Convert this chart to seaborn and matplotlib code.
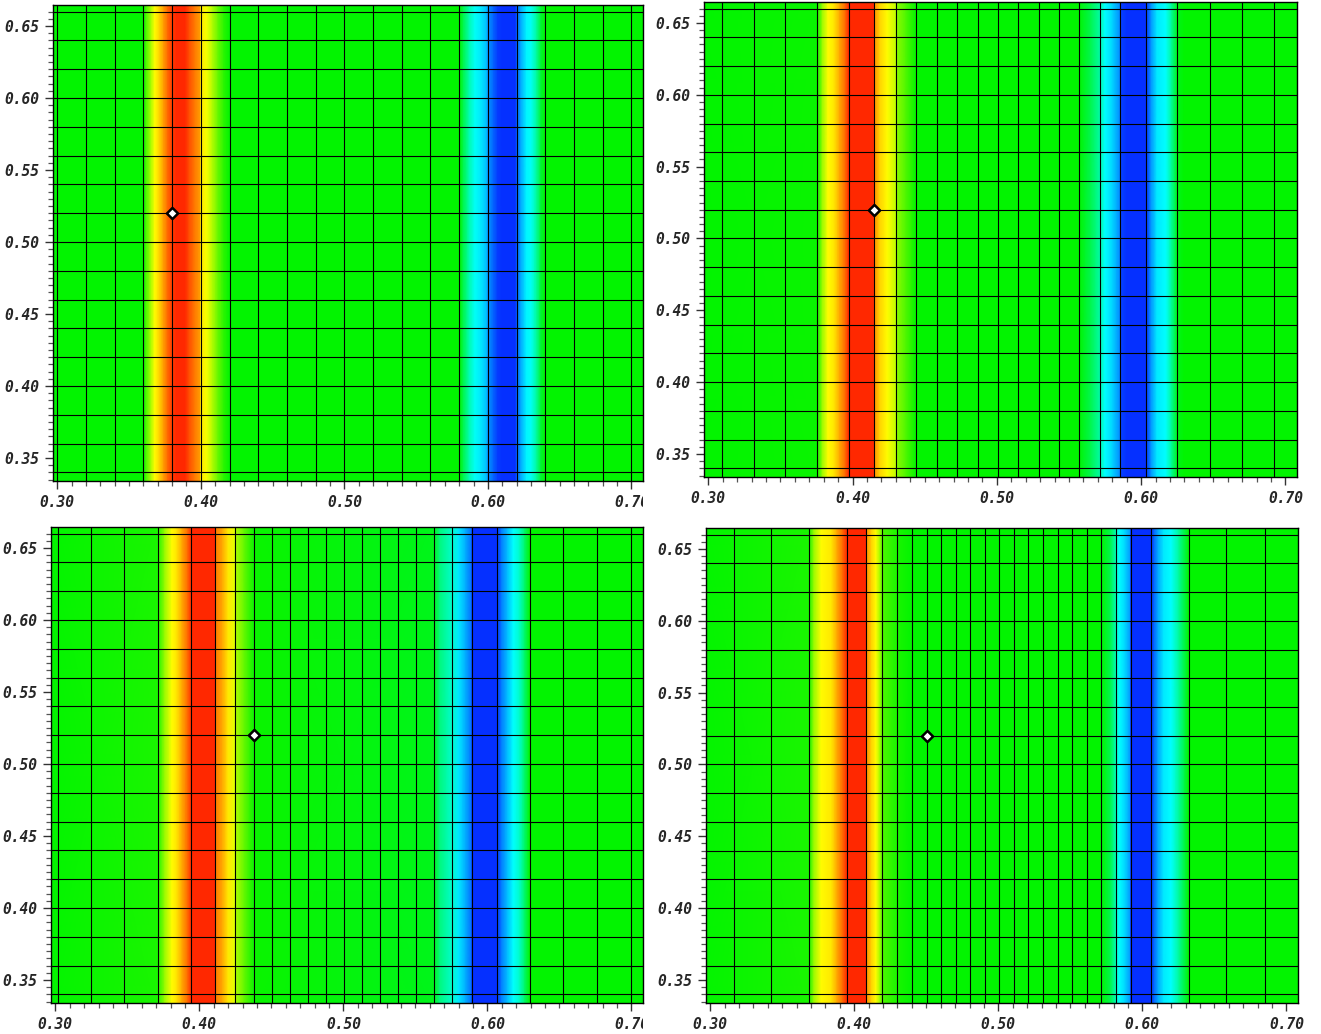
import numpy as np
import matplotlib
matplotlib.use("Agg")
import matplotlib.pyplot as plt
import seaborn as sns
from matplotlib.colors import LinearSegmentedColormap
from matplotlib.ticker import MultipleLocator, FormatStrFormatter
from matplotlib.transforms import Bbox

sns.set_style("ticks")
plt.rcParams['font.family'] = ['DejaVu Sans Mono', 'DejaVu Sans']

# ==========================================================
# data
# ==========================================================

# horizontal mesh lines (same in all panels)
Y_LINES = [0.34, 0.36, 0.38, 0.40, 0.42, 0.44, 0.46, 0.48, 0.50,
           0.52, 0.54, 0.56, 0.58, 0.60, 0.62, 0.64, 0.66]

# vertical mesh lines per panel
X_LINES_1 = [0.30, 0.32, 0.34, 0.36, 0.38, 0.40, 0.42, 0.44, 0.46, 0.48, 0.50,
             0.52, 0.54, 0.56, 0.58, 0.60, 0.62, 0.64, 0.66, 0.68, 0.70]
X_LINES_2 = [0.3094, 0.3314, 0.3534, 0.3756, 0.3973, 0.4150, 0.4302, 0.4442,
             0.4582, 0.4725, 0.4868, 0.5008, 0.5147, 0.5290, 0.5432, 0.5569,
             0.5712, 0.5855, 0.6037, 0.6250, 0.6477, 0.6698, 0.6920]
X_LINES_3 = [0.3017, 0.3246, 0.3476, 0.3711, 0.3945, 0.4112, 0.4248, 0.4378,
             0.4505, 0.4629, 0.4756, 0.4881, 0.5004, 0.5126, 0.5256, 0.5380,
             0.5503, 0.5628, 0.5756, 0.5892, 0.6066, 0.6295, 0.6524, 0.6760,
             0.6996]
X_LINES_4 = [0.3167, 0.3425, 0.3686, 0.3948, 0.4084, 0.4195, 0.4299, 0.4400,
             0.4503, 0.4603, 0.4704, 0.4803, 0.4905, 0.5005, 0.5108, 0.5208,
             0.5309, 0.5412, 0.5513, 0.5615, 0.5715, 0.5815, 0.5918, 0.6061,
             0.6322, 0.6584, 0.6852]

# solution profile u(x): positive -> red band, negative -> blue band
PROF_X_1 = [0.29, 0.360, 0.362, 0.3655, 0.368, 0.371, 0.374, 0.377, 0.380,
            0.383, 0.389, 0.392, 0.396, 0.3995, 0.400, 0.404, 0.408, 0.412,
            0.416, 0.420,
            0.580, 0.583, 0.587, 0.591, 0.595, 0.599, 0.600, 0.604, 0.607,
            0.610, 0.619, 0.620, 0.623, 0.627, 0.630, 0.634, 0.637, 0.640, 0.72]
PROF_V_1 = [0.0, 0.0, 0.15, 0.35, 0.50, 0.60, 0.72, 0.85, 0.95,
            1.0, 1.0, 0.90, 0.80, 0.72, 0.55, 0.48, 0.35, 0.20,
            0.08, 0.0,
            0.0, -0.15, -0.35, -0.48, -0.55, -0.65, -0.75, -0.88, -0.97,
            -1.0, -1.0, -0.90, -0.70, -0.52, -0.48, -0.30, -0.10, 0.0, 0.0]

PROF_X_2 = [0.29, 0.3756, 0.379, 0.383, 0.387, 0.391, 0.395, 0.3973, 0.4148,
            0.4152, 0.419, 0.424, 0.4300, 0.4304, 0.437, 0.4442,
            0.5569, 0.565, 0.5712, 0.575, 0.580, 0.5853, 0.5857, 0.590,
            0.6035, 0.607, 0.611, 0.617, 0.621, 0.6250, 0.630, 0.72]
PROF_V_2 = [0.0, 0.02, 0.30, 0.50, 0.55, 0.70, 0.85, 1.0, 1.0,
            0.75, 0.60, 0.50, 0.38, 0.28, 0.15, 0.0,
            0.0, -0.15, -0.32, -0.50, -0.60, -0.78, -0.95, -1.0,
            -1.0, -0.75, -0.55, -0.50, -0.30, -0.05, 0.0, 0.0]

PROF_X_3 = [0.29, 0.3711, 0.376, 0.381, 0.384, 0.388, 0.392, 0.3945, 0.4110,
            0.4114, 0.416, 0.420, 0.4246, 0.4250, 0.431, 0.438,
            0.5628, 0.567, 0.5756, 0.580, 0.585, 0.5890, 0.5894, 0.6066,
            0.610, 0.614, 0.618, 0.622, 0.626, 0.6295, 0.72]
PROF_V_3 = [0.0, 0.05, 0.30, 0.50, 0.55, 0.70, 0.85, 1.0, 1.0,
            0.80, 0.70, 0.55, 0.45, 0.35, 0.20, 0.02,
            -0.05, -0.25, -0.40, -0.55, -0.70, -0.85, -1.0, -1.0,
            -0.80, -0.65, -0.50, -0.40, -0.20, 0.0, 0.0]

PROF_X_4 = [0.29, 0.3686, 0.372, 0.377, 0.384, 0.388, 0.392, 0.3948, 0.4082,
            0.4086, 0.412, 0.415, 0.418, 0.4195, 0.430, 0.440,
            0.5715, 0.578, 0.5815, 0.584, 0.588, 0.5916, 0.5920, 0.6061,
            0.6085, 0.611, 0.6148, 0.620, 0.6254, 0.6322, 0.72]
PROF_V_4 = [0.0, 0.05, 0.30, 0.50, 0.55, 0.70, 0.85, 1.0, 1.0,
            0.75, 0.60, 0.50, 0.30, 0.15, 0.05, 0.0,
            0.0, -0.15, -0.35, -0.50, -0.60, -0.75, -1.0, -1.0,
            -0.85, -0.70, -0.55, -0.50, -0.30, 0.0, 0.0]

# tracked node (diamond)
MARK_X = [0.380, 0.415, 0.4378, 0.4503]
MARK_Y = [0.52, 0.52, 0.52, 0.52]

X_LINES = [X_LINES_1, X_LINES_2, X_LINES_3, X_LINES_4]
PROF_X = [PROF_X_1, PROF_X_2, PROF_X_3, PROF_X_4]
PROF_V = [PROF_V_1, PROF_V_2, PROF_V_3, PROF_V_4]

# ==========================================================
# figure
# ==========================================================

cmap = LinearSegmentedColormap.from_list(
    "bgr", [(0.0, "#0530FF"), (0.25, "#00FFFF"), (0.5, "#00F400"),
            (0.75, "#FFFF00"), (1.0, "#FF2800")])

XLIM = (0.297, 0.708)
YLIM = (0.334, 0.6646)

positions = [
    [0.0401, 0.5348, 0.4466, 0.4603],
    [0.5329, 0.5387, 0.4489, 0.4594],
    [0.0386, 0.0300, 0.4481, 0.4603],
    [0.5344, 0.0300, 0.4481, 0.4594],
]
# right edge (px) where each panel's own picture ends
clip_right = [643, 1321, 643, 1321]

fig = plt.figure(figsize=(13.21, 10.34), dpi=100)

for i in range(4):
    ax = fig.add_axes(positions[i])
    px = np.asarray(PROF_X[i])
    pv = np.asarray(PROF_V[i])
    X = np.vstack([px, px])
    Y = np.vstack([np.full_like(px, YLIM[0] - 0.01), np.full_like(px, YLIM[1] + 0.01)])
    C = np.vstack([pv, pv])
    ax.pcolormesh(X, Y, C, shading="gouraud", cmap=cmap, vmin=-1, vmax=1,
                  zorder=1, rasterized=True)

    for xv in X_LINES[i]:
        ax.axvline(xv, color="black", lw=0.8, zorder=2)
    for yv in Y_LINES:
        ax.axhline(yv, color="black", lw=0.8, zorder=2)

    sns.scatterplot(x=[MARK_X[i]], y=[MARK_Y[i]], marker="D", s=32,
                    color="white", edgecolor="black", linewidth=1.8,
                    ax=ax, zorder=5, legend=False)

    ax.set_xlim(*XLIM)
    ax.set_ylim(*YLIM)
    ax.xaxis.set_major_locator(MultipleLocator(0.1))
    ax.xaxis.set_minor_locator(MultipleLocator(0.01))
    ax.yaxis.set_major_locator(MultipleLocator(0.05))
    ax.yaxis.set_minor_locator(MultipleLocator(0.005))
    ax.xaxis.set_major_formatter(FormatStrFormatter("%.2f"))
    ax.yaxis.set_major_formatter(FormatStrFormatter("%.2f"))
    ax.tick_params(which="major", direction="out", length=6, width=1,
                   color="#333333", pad=4)
    ax.tick_params(which="minor", direction="out", length=3.5, width=0.9,
                   color="#555555")
    for lab in ax.get_xticklabels() + ax.get_yticklabels():
        lab.set_fontsize(10.5)
        lab.set_fontweight("bold")
        lab.set_fontstyle("italic")
    for lab in ax.get_xticklabels():
        lab.set_clip_box(Bbox([[0, 0], [clip_right[i], 1034]]))
        lab.set_clip_on(True)
    for sp in ax.spines.values():
        sp.set_color("black")
        sp.set_linewidth(1.0)
    ax.set_xlabel("")
    ax.set_ylabel("")

plt.savefig("out.png", dpi=100)
plt.close()
